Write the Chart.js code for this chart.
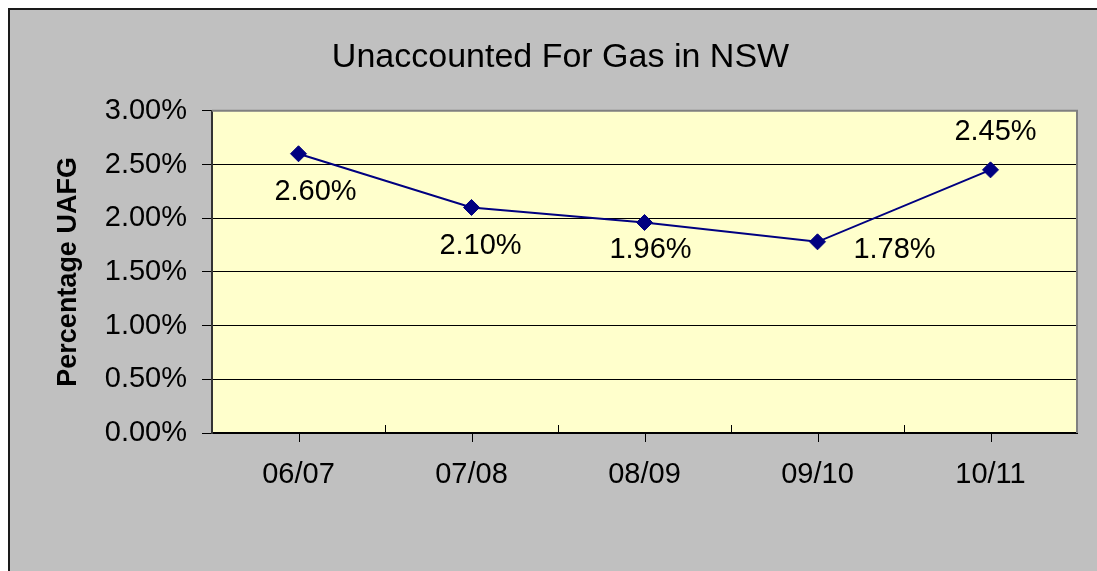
<!DOCTYPE html>
<html>
<head>
<meta charset="utf-8">
<title>Unaccounted For Gas in NSW</title>
<script src="https://cdn.jsdelivr.net/npm/chart.js@4/dist/chart.umd.min.js"></script>
<style>
  html, body { margin: 0; padding: 0; background: #fff; }
  canvas { display: block; }
</style>
</head>
<body>
<canvas id="chart-uafg" width="1097" height="571"></canvas>
<script>
// Data
const years = ['06/07', '07/08', '08/09', '09/10', '10/11'];
const uafg = [2.60, 2.10, 1.96, 1.78, 2.45];
const yTicks = [0, 0.5, 1.0, 1.5, 2.0, 2.5, 3.0];

// where each value label sits relative to its point (px)
const labelOffsets = [[17, 38], [9, 39], [6, 28], [77, 8], [5, -38]];

const FONT = '"Liberation Sans", Arial, sans-serif';

// grey frame + yellow plot area
const backdrop = {
  id: 'backdrop',
  beforeDraw(chart) {
    const { ctx, chartArea: a } = chart;
    ctx.save();
    ctx.fillStyle = '#fff';
    ctx.fillRect(0, 0, chart.width, chart.height);
    ctx.fillStyle = '#C0C0C0';
    ctx.fillRect(8, 8, chart.width - 8, chart.height - 8);
    ctx.strokeStyle = '#1a1a1a';
    ctx.lineWidth = 2;
    ctx.beginPath();
    ctx.moveTo(9, chart.height);
    ctx.lineTo(9, 9);
    ctx.lineTo(chart.width, 9);
    ctx.stroke();
    ctx.fillStyle = '#FFFFCC';
    ctx.fillRect(a.left, a.top, a.right - a.left, a.bottom - a.top);
    ctx.restore();
  },
  beforeDatasetsDraw(chart) {
    const { ctx, chartArea: a } = chart;
    ctx.save();
    ctx.strokeStyle = '#808080';
    ctx.lineWidth = 2;
    ctx.beginPath();
    ctx.moveTo(a.left, a.top);
    ctx.lineTo(a.right, a.top);
    ctx.lineTo(a.right, a.bottom);
    ctx.stroke();
    // category ticks: down at each year, up between years
    const x = chart.scales.x;
    ctx.strokeStyle = '#000';
    ctx.lineWidth = 1;
    ctx.beginPath();
    years.forEach((_, i) => {
      const p = Math.round(x.getPixelForValue(i)) + 0.5;
      ctx.moveTo(p, a.bottom);
      ctx.lineTo(p, a.bottom + 9);
      if (i < years.length - 1) {
        const m = Math.round((x.getPixelForValue(i) + x.getPixelForValue(i + 1)) / 2) + 0.5;
        ctx.moveTo(m, a.bottom);
        ctx.lineTo(m, a.bottom - 8);
      }
    });
    ctx.stroke();
    ctx.restore();
  }
};

// value labels
const valueLabels = {
  id: 'valueLabels',
  afterDatasetsDraw(chart) {
    const { ctx } = chart;
    const meta = chart.getDatasetMeta(0);
    ctx.save();
    ctx.font = `29px ${FONT}`;
    ctx.fillStyle = '#000';
    ctx.textAlign = 'center';
    ctx.textBaseline = 'middle';
    meta.data.forEach((pt, i) => {
      const [dx, dy] = labelOffsets[i];
      ctx.fillText(uafg[i].toFixed(2) + '%', pt.x + dx, pt.y + dy);
    });
    ctx.restore();
  }
};

new Chart(document.getElementById('chart-uafg'), {
  type: 'line',
  data: {
    labels: years,
    datasets: [{
      label: 'UAFG',
      data: uafg,
      borderColor: '#000080',
      backgroundColor: '#000080',
      borderWidth: 2,
      pointStyle: 'rectRot',
      pointRadius: 8,
      pointBorderWidth: 1,
      tension: 0,
      fill: false,
    }]
  },
  options: {
    responsive: false, animation: false,
    layout: { padding: { left: 44, right: 20, top: 0, bottom: 0 } },
    plugins: {
      legend: { display: false },
      tooltip: { enabled: false },
      title: {
        display: true, text: 'Unaccounted For Gas in NSW', color: '#000',
        font: { family: FONT, size: 34, weight: 'normal' },
        padding: { top: 37, bottom: 33 }
      }
    },
    scales: {
      x: {
        offset: true,
        grid: { display: false },
        border: { display: true, color: '#000', width: 2 },
        ticks: { color: '#000', font: { family: FONT, size: 29 }, padding: 17, maxRotation: 0 },
        afterFit: s => { s.height = 138; }
      },
      y: {
        min: 0, max: 3,
        afterBuildTicks: s => { s.ticks = yTicks.map(v => ({ value: v })); },
        grid: {
          color: c => (c.tick && c.tick.value === 3 ? 'rgba(0,0,0,0)' : '#000'),
          tickColor: '#000', tickLength: 10, lineWidth: 1
        },
        border: { display: true, color: '#333', width: 2 },
        ticks: {
          color: '#000', font: { family: FONT, size: 29 }, padding: 15,
          callback: v => v.toFixed(2) + '%'
        },
        title: {
          display: true, text: 'Percentage UAFG', color: '#000',
          font: { family: FONT, size: 27, weight: 'bold' },
          padding: { top: 8, bottom: 0 }
        },
        afterFit: s => { s.width = 168; }
      }
    }
  },
  plugins: [backdrop, valueLabels]
});
</script>
</body>
</html>
